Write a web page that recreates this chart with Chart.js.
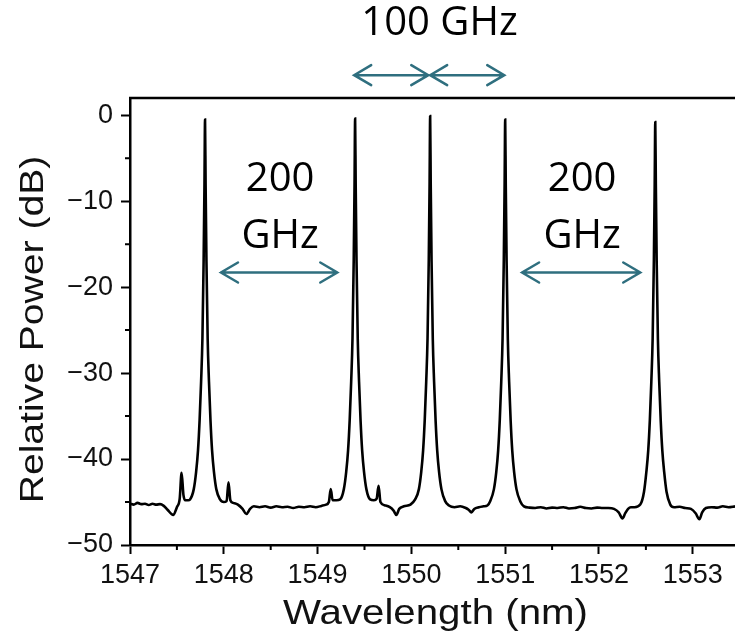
<!DOCTYPE html>
<html>
<head>
<meta charset="utf-8">
<script src="https://cdn.jsdelivr.net/npm/chart.js@4.4.1/dist/chart.umd.min.js"></script>
<style>
  html, body { margin: 0; padding: 0; background: #ffffff; }
  #wrap { position: relative; width: 735px; height: 640px; }
  canvas { display: block; }
</style>
</head>
<body>
<div id="wrap"><canvas id="c" width="735" height="640"></canvas></div>
<script>
// ---- Data ----
const wavelength = [
  // baseline + side features left of peak 1
  1547.00, 1547.04, 1547.08, 1547.12, 1547.16, 1547.20, 1547.24, 1547.28, 1547.32, 1547.36,
  1547.40, 1547.46, 1547.50, 1547.53, 1547.55, 1547.57, 1547.59, 1547.62, 1547.64,
  // peak 1
  1547.68, 1547.705, 1547.725, 1547.742, 1547.758, 1547.772, 1547.785, 1547.794, 1547.80,
  1547.806, 1547.815, 1547.828, 1547.842, 1547.858, 1547.875, 1547.895, 1547.92, 1547.96,
  // between peak 1 and peak 2
  1548.00, 1548.03, 1548.05, 1548.07, 1548.10, 1548.15, 1548.20, 1548.24, 1548.28, 1548.32,
  1548.38, 1548.44, 1548.50, 1548.56, 1548.62, 1548.68, 1548.74, 1548.80, 1548.86, 1548.92,
  1548.98, 1549.04, 1549.09, 1549.12, 1549.14, 1549.16, 1549.20, 1549.24,
  // peak 2
  1549.28, 1549.305, 1549.325, 1549.342, 1549.358, 1549.372, 1549.385, 1549.394, 1549.40,
  1549.406, 1549.415, 1549.428, 1549.442, 1549.458, 1549.475, 1549.495, 1549.52, 1549.56,
  // between peak 2 and peak 3
  1549.60, 1549.63, 1549.65, 1549.67, 1549.72, 1549.77, 1549.81, 1549.84, 1549.87, 1549.92,
  1549.99, 1550.04,
  // peak 3
  1550.08, 1550.105, 1550.125, 1550.142, 1550.158, 1550.172, 1550.185, 1550.194, 1550.20,
  1550.206, 1550.215, 1550.228, 1550.242, 1550.258, 1550.275, 1550.295, 1550.32, 1550.36,
  // between peak 3 and peak 4
  1550.40, 1550.46, 1550.52, 1550.58, 1550.61, 1550.64, 1550.67, 1550.72, 1550.77, 1550.81, 1550.84,
  // peak 4
  1550.88, 1550.905, 1550.925, 1550.942, 1550.958, 1550.972, 1550.985, 1550.994, 1551.00,
  1551.006, 1551.015, 1551.028, 1551.042, 1551.058, 1551.075, 1551.095, 1551.12, 1551.16,
  // between peak 4 and peak 5
  1551.20, 1551.26, 1551.32, 1551.38, 1551.44, 1551.50, 1551.56, 1551.62, 1551.68, 1551.74,
  1551.80, 1551.86, 1551.92, 1551.98, 1552.04, 1552.10, 1552.16, 1552.21, 1552.25, 1552.28,
  1552.31, 1552.34, 1552.38, 1552.44,
  // peak 5
  1552.48, 1552.505, 1552.525, 1552.542, 1552.558, 1552.572, 1552.585, 1552.594, 1552.60,
  1552.606, 1552.615, 1552.628, 1552.642, 1552.658, 1552.675, 1552.695, 1552.72, 1552.76,
  // right tail
  1552.80, 1552.86, 1552.92, 1552.98, 1553.03, 1553.07, 1553.10, 1553.14, 1553.20, 1553.26,
  1553.32, 1553.38, 1553.45
];
const power = [
  -45.2, -45.3, -45.1, -45.25, -45.2, -45.35, -45.2, -45.3, -45.25, -45.45,
  -45.9, -46.5, -45.6, -44.6, -41.6, -44.2, -44.8, -44.8, -44.7,
  -43.5, -41.5, -39.0, -35.5, -31.0, -26.0, -17.0, -8.0, -0.5,
  -8.0, -17.0, -26.0, -31.0, -35.5, -39.0, -41.5, -43.5, -44.7,
  -45.0, -44.9, -42.7, -44.8, -45.1, -45.3, -45.8, -46.4, -45.8, -45.5,
  -45.6, -45.5, -45.65, -45.5, -45.6, -45.55, -45.7, -45.55, -45.6, -45.5,
  -45.6, -45.45, -45.3, -45.0, -43.5, -44.8, -44.8, -44.7,
  -43.5, -41.5, -39.0, -35.5, -31.0, -26.0, -17.0, -8.0, -0.4,
  -8.0, -17.0, -26.0, -31.0, -35.5, -39.0, -41.5, -43.5, -44.7,
  -44.8, -44.6, -43.1, -45.0, -45.4, -45.6, -46.0, -46.5, -45.8, -45.5,
  -45.3, -44.7,
  -43.5, -41.5, -39.0, -35.5, -31.0, -26.0, -17.0, -8.0, -0.1,
  -8.0, -17.0, -26.0, -31.0, -35.5, -39.0, -41.5, -43.5, -44.9,
  -45.4, -45.6, -45.5, -45.7, -45.9, -46.2, -45.8, -45.6, -45.5, -45.4, -44.9,
  -43.5, -41.5, -39.0, -35.5, -31.0, -26.0, -17.0, -8.0, -0.5,
  -8.0, -17.0, -26.0, -31.0, -35.5, -39.0, -41.5, -43.5, -44.9,
  -45.5, -45.65, -45.7, -45.6, -45.75, -45.65, -45.7, -45.6, -45.75, -45.7,
  -45.55, -45.7, -45.75, -45.65, -45.7, -45.7, -45.8, -46.2, -46.9, -46.3,
  -45.8, -45.6, -45.6, -45.3,
  -43.8, -41.5, -39.0, -35.5, -31.0, -26.0, -17.0, -8.0, -0.8,
  -8.0, -17.0, -26.0, -31.0, -35.5, -39.0, -41.5, -43.8, -45.3,
  -45.6, -45.55, -45.7, -45.8, -46.3, -47.0, -46.2, -45.7, -45.6, -45.65,
  -45.5, -45.6, -45.5
];

// Axis ranges / ticks
const xRange = [1547, 1553.45];
const yRange = [-50, 2];
const xTickStep = 1;
const yTickStep = 10;
const xTitle = 'Wavelength (nm)';
const yTitle = 'Relative Power (dB)';

// Annotations (in data units)
const arrowStart = [1547.97, 1551.18, 1549.39, 1550.20];
const arrowEnd   = [1549.21, 1552.44, 1550.18, 1550.99];
const arrowLevel = [-18.3, -18.3, 4.66, 4.66];
const labelText  = ['100 GHz', '200', 'GHz', '200', 'GHz'];
const labelX     = [1550.30, 1548.60, 1548.60, 1551.82, 1551.82];
const labelY     = [10.6, -7.5, -14.1, -7.5, -14.1];

const points = wavelength.map((w, i) => ({ x: w, y: power[i] }));

const ARROW_COLOR = '#2f6f7f';
const AXIS_FONT = '"Liberation Sans", Arial, sans-serif';

const decorPlugin = {
  id: 'decor',
  afterDraw(chart) {
    const ctx = chart.ctx;
    const xs = chart.scales.x, ys = chart.scales.y;
    const area = chart.chartArea;
    ctx.save();
    // top frame line
    ctx.strokeStyle = '#000';
    ctx.lineWidth = 2.5;
    ctx.beginPath();
    ctx.moveTo(area.left - 1, area.top);
    ctx.lineTo(chart.width, area.top);
    ctx.stroke();
    // minor ticks
    ctx.lineWidth = 2;
    ctx.beginPath();
    for (let v = xRange[0] + xTickStep / 2; v < xRange[1]; v += xTickStep) {
      const px = xs.getPixelForValue(v);
      ctx.moveTo(px, area.bottom);
      ctx.lineTo(px, area.bottom + 5);
    }
    for (let v = yRange[0] + yTickStep / 2; v < yRange[1]; v += yTickStep) {
      const py = ys.getPixelForValue(v);
      ctx.moveTo(area.left, py);
      ctx.lineTo(area.left - 5, py);
    }
    ctx.stroke();
    // axis titles (slightly widened like the reference)
    ctx.fillStyle = '#111';
    ctx.textAlign = 'center';
    ctx.textBaseline = 'alphabetic';
    ctx.save();
    ctx.font = '35px ' + AXIS_FONT;
    ctx.translate((area.left + area.right) / 2 + 3, area.bottom + 79);
    ctx.scale(1.15, 1);
    ctx.fillText(xTitle, 0, 0);
    ctx.restore();
    ctx.save();
    ctx.font = '34px ' + AXIS_FONT;
    ctx.translate(43, (area.top + area.bottom) / 2 + 8);
    ctx.rotate(-Math.PI / 2);
    ctx.scale(1.15, 1);
    ctx.fillText(yTitle, 0, 0);
    ctx.restore();
    // arrows
    ctx.strokeStyle = ARROW_COLOR;
    ctx.lineWidth = 2.5;
    ctx.lineCap = 'round';
    for (let i = 0; i < arrowStart.length; i++) {
      const x1 = xs.getPixelForValue(arrowStart[i]);
      const x2 = xs.getPixelForValue(arrowEnd[i]);
      const y = ys.getPixelForValue(arrowLevel[i]);
      const hl = 17, hw = 10;
      ctx.beginPath();
      ctx.moveTo(x1, y); ctx.lineTo(x2, y);
      ctx.moveTo(x1 + hl, y - hw); ctx.lineTo(x1, y); ctx.lineTo(x1 + hl, y + hw);
      ctx.moveTo(x2 - hl, y - hw); ctx.lineTo(x2, y); ctx.lineTo(x2 - hl, y + hw);
      ctx.stroke();
    }
    // labels
    ctx.fillStyle = '#000';
    ctx.font = '40px "Open Sans"';
    ctx.textAlign = 'center';
    ctx.textBaseline = 'middle';
    for (let i = 0; i < labelText.length; i++) {
      ctx.fillText(labelText[i], xs.getPixelForValue(labelX[i]), ys.getPixelForValue(labelY[i]));
    }
    ctx.restore();
  }
};

new Chart(document.getElementById('c'), {
  type: 'scatter',
  data: {
    datasets: [{
      data: points,
      showLine: true,
      borderColor: '#000',
      borderWidth: 2.6,
      pointRadius: 0,
      cubicInterpolationMode: 'monotone',
      fill: false
    }]
  },
  options: {
    responsive: false,
    animation: false,
    devicePixelRatio: 1,
    layout: { padding: { top: 98, right: 0, left: 0, bottom: 0 } },
    plugins: { legend: { display: false }, tooltip: { enabled: false } },
    scales: {
      x: {
        type: 'linear',
        min: xRange[0], max: xRange[1],
        afterFit(scale) { scale.height = 95; },
        border: { display: true, color: '#000', width: 2.5 },
        grid: { drawOnChartArea: false, drawTicks: true, tickLength: 9, tickWidth: 2, tickColor: '#000' },
        ticks: {
          stepSize: xTickStep, includeBounds: false, color: '#111', padding: 5,
          font: { family: AXIS_FONT, size: 27 },
          callback: (v) => String(v)
        }
      },
      y: {
        type: 'linear',
        min: yRange[0], max: yRange[1],
        afterFit(scale) { scale.width = 130; },
        border: { display: true, color: '#000', width: 2.5 },
        grid: { drawOnChartArea: false, drawTicks: true, tickLength: 9, tickWidth: 2, tickColor: '#000' },
        ticks: {
          stepSize: yTickStep, includeBounds: false, color: '#111', padding: 8,
          font: { family: AXIS_FONT, size: 27 },
          callback: (v) => (v < 0 ? '\u2212' + Math.abs(v) : String(v))
        }
      }
    }
  },
  plugins: [decorPlugin]
});
</script>
</body>
</html>
